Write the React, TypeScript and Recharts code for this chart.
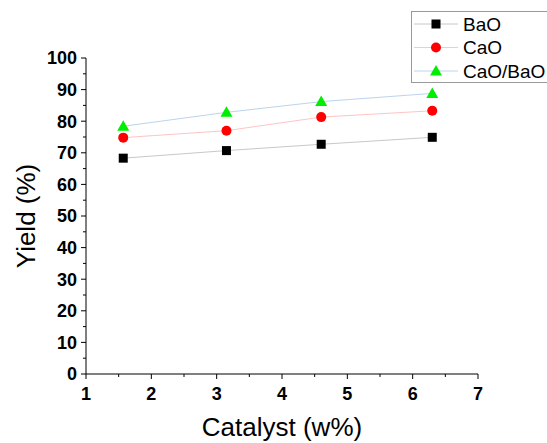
import { LineChart, Line, XAxis, YAxis, Legend } from "recharts";

// values
const catalyst = [1.57, 3.15, 4.6, 6.3];
const baoYield = [68.3, 70.7, 72.7, 74.9];
const caoYield = [74.8, 77.0, 81.3, 83.3];
const mixYield = [78.4, 82.8, 86.2, 88.8];

const xTicks = [1, 1.5, 2, 2.5, 3, 3.5, 4, 4.5, 5, 5.5, 6, 6.5, 7];
const yTicks = [0, 5, 10, 15, 20, 25, 30, 35, 40, 45, 50, 55, 60, 65, 70, 75, 80, 85, 90, 95, 100];

const data = catalyst.map((c, i) => ({
  x: c,
  bao: baoYield[i],
  cao: caoYield[i],
  mix: mixYield[i],
}));

const series = [
  { key: "bao", name: "BaO", color: "#000000", line: "#c8c8c8", shape: "square" },
  { key: "cao", name: "CaO", color: "#ff0000", line: "#ffc4c4", shape: "circle" },
  { key: "mix", name: "CaO/BaO", color: "#00ee00", line: "#bcd4ee", shape: "triangle" },
];

const font = "'Liberation Sans', Arial, sans-serif";

function Marker({ shape, cx, cy, color }: any) {
  if (shape === "square") {
    return <rect x={cx - 4.5} y={cy - 4.5} width={9} height={9} fill={color} />;
  }
  if (shape === "circle") {
    return <circle cx={cx} cy={cy} r={5} fill={color} />;
  }
  return (
    <polygon
      points={`${cx},${cy - 6} ${cx + 6},${cy + 4.5} ${cx - 6},${cy + 4.5}`}
      fill={color}
    />
  );
}

function YTick({ x, y, payload }: any) {
  const major = payload.value % 10 === 0;
  return (
    <g>
      <line x1={x} x2={x - (major ? 5 : 3)} y1={y} y2={y} stroke="#000" />
      {major && (
        <text
          x={x - 9}
          y={y}
          dy="0.36em"
          textAnchor="end"
          fontFamily={font}
          fontWeight="bold"
          fontSize={18}
          fill="#000"
        >
          {payload.value}
        </text>
      )}
    </g>
  );
}

function XTick({ x, y, payload }: any) {
  const major = Number.isInteger(payload.value);
  return (
    <g>
      <line x1={x} x2={x} y1={y} y2={y + (major ? 5 : 3)} stroke="#000" />
      {major && (
        <text
          x={x}
          y={y + 13}
          dy="0.71em"
          textAnchor="middle"
          fontFamily={font}
          fontWeight="bold"
          fontSize={18}
          fill="#000"
        >
          {payload.value}
        </text>
      )}
    </g>
  );
}

function LegendBox() {
  return (
    <div
      style={{
        width: 150,
        height: 72,
        border: "1px solid #9a9a9a",
        background: "#fff",
        boxSizing: "border-box",
      }}
    >
      <svg width={150} height={70} style={{ display: "block" }}>
        {series.map((s, i) => {
          const cy = 12 + i * 23.5;
          return (
            <g key={s.key}>
              <line x1={2} x2={46} y1={cy} y2={cy} stroke={s.line} />
              <Marker shape={s.shape} cx={24} cy={cy} color={s.color} />
              <text
                x={51}
                y={cy}
                dy="0.36em"
                fontFamily={font}
                fontSize={19}
                fill="#000"
              >
                {s.name}
              </text>
            </g>
          );
        })}
      </svg>
    </div>
  );
}

export default function App() {
  return (
    <div
      style={{
        position: "absolute",
        left: 0,
        top: 0,
        width: 547,
        height: 443,
        overflow: "hidden",
        background: "#fff",
      }}
    >
      <LineChart
        width={547}
        height={443}
        data={data}
        margin={{ top: 58, right: 69, bottom: 0, left: 0 }}
      >
        <XAxis
          dataKey="x"
          type="number"
          domain={[1, 7]}
          ticks={xTicks}
          interval={0}
          height={69}
          stroke="#000"
          tickLine={false}
          tickSize={0}
          tickMargin={0}
          tick={<XTick />}
          label={{
            content: ({ viewBox }: any) => (
              <text
                x={viewBox.x + viewBox.width / 2}
                y={436}
                textAnchor="middle"
                fontFamily={font}
                fontSize={26}
                fill="#000"
              >
                Catalyst (w%)
              </text>
            ),
          }}
        />
        <YAxis
          type="number"
          domain={[0, 100]}
          ticks={yTicks}
          interval={0}
          width={86}
          stroke="#000"
          tickLine={false}
          tickSize={0}
          tickMargin={0}
          tick={<YTick />}
          label={{
            content: ({ viewBox }: any) => {
              const cy = viewBox.y + viewBox.height / 2;
              return (
                <text
                  x={26}
                  y={cy}
                  transform={`rotate(-90 26 ${cy})`}
                  dy="0.36em"
                  textAnchor="middle"
                  fontFamily={font}
                  fontSize={26}
                  fill="#000"
                >
                  Yield (%)
                </text>
              );
            },
          }}
        />
        <Legend
          layout="vertical"
          align="center"
          verticalAlign="middle"
          content={() => <LegendBox />}
          wrapperStyle={{ position: "absolute", left: 411, top: 11, width: 150 }}
        />
        {series.map((s) => (
          <Line
            key={s.key}
            dataKey={s.key}
            name={s.name}
            type="linear"
            stroke={s.line}
            strokeWidth={1}
            isAnimationActive={false}
            dot={(p: any) => (
              <Marker key={`${s.key}-${p.index}`} shape={s.shape} cx={p.cx} cy={p.cy} color={s.color} />
            )}
            activeDot={false}
          />
        ))}
      </LineChart>
    </div>
  );
}
